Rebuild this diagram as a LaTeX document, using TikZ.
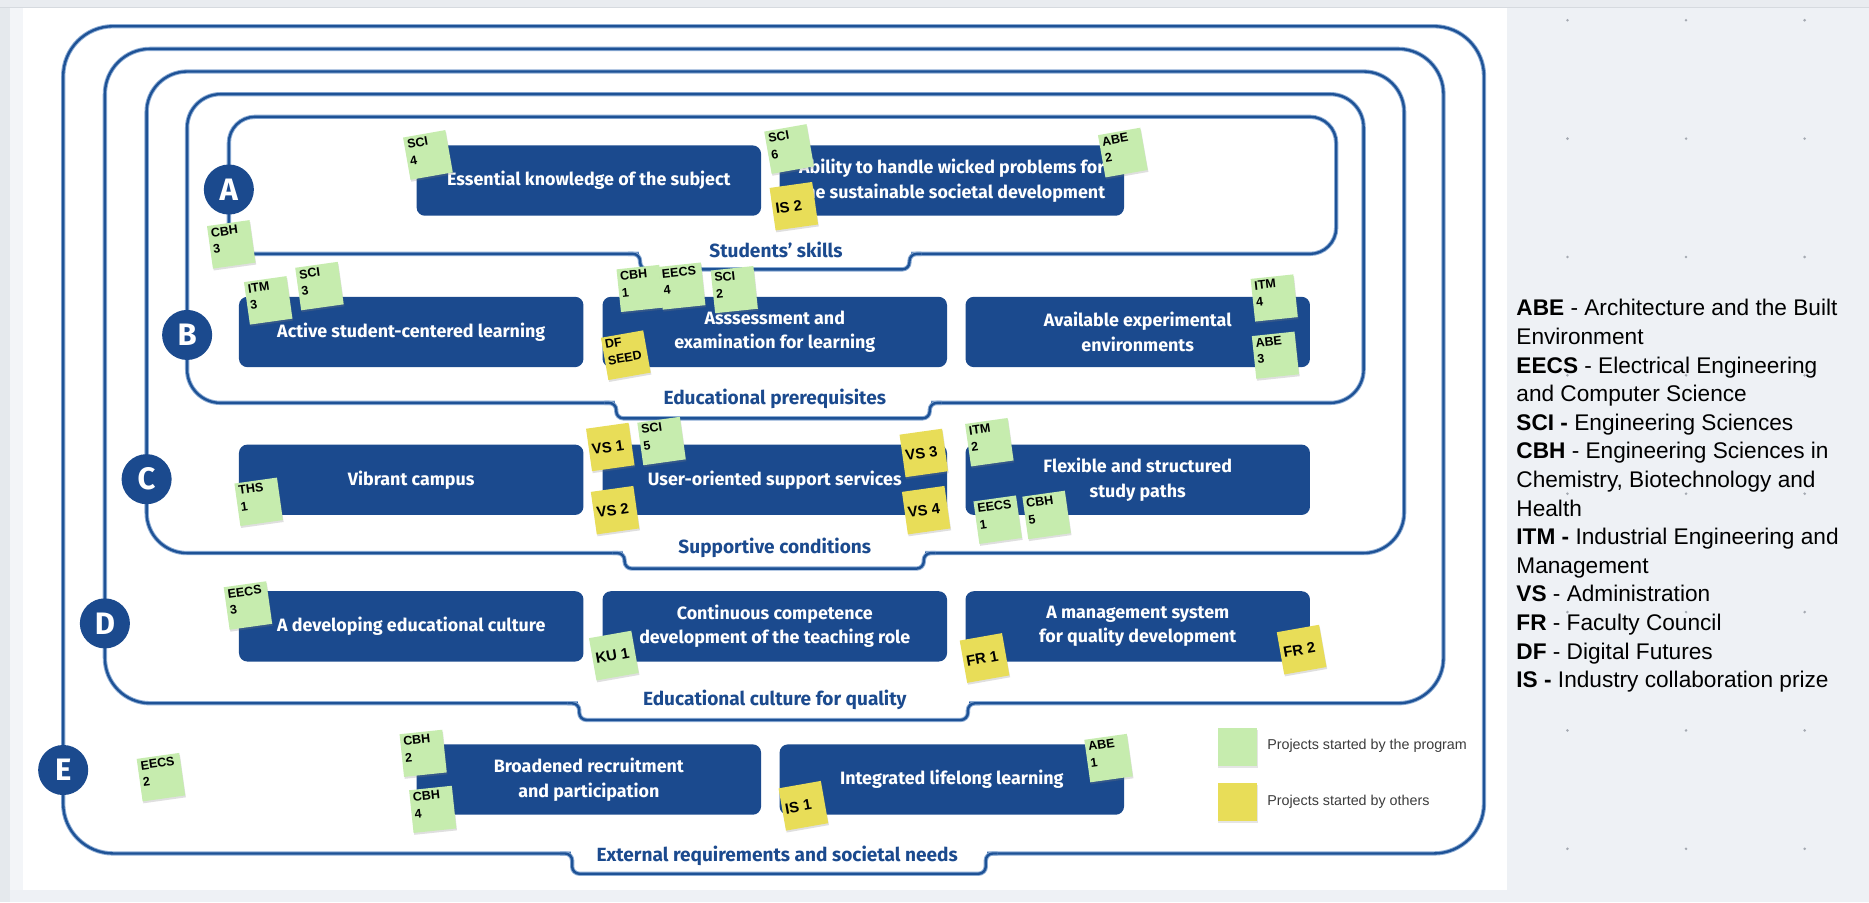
\documentclass[tikz,border=0pt]{standalone}
\usepackage{fontspec}
\setmainfont{Fira Sans}
\newfontfamily\arialf{Liberation Sans}
\usetikzlibrary{shadows}
\definecolor{kthblue}{RGB}{27,74,142}
\definecolor{frameblue}{RGB}{30,82,150}
\definecolor{framehalo}{RGB}{140,172,212}
\definecolor{stgreen}{RGB}{198,236,174}
\definecolor{styellow}{RGB}{232,221,88}
\definecolor{pagegrey}{RGB}{238,241,245}
\definecolor{topgrey}{RGB}{233,236,240}
\definecolor{linegrey}{RGB}{214,218,223}
\definecolor{leftgrey}{RGB}{229,233,237}
\definecolor{bandgrey}{RGB}{243,245,248}
\definecolor{dotgrey}{RGB}{165,170,178}
\definecolor{legtext}{RGB}{60,60,60}
\tikzset{
  frame/.style={draw=frameblue, line width=2pt, preaction={draw=framehalo, line width=3.6pt}},
  box/.style={fill=kthblue, rounded corners=7, text=white, align=center, inner sep=0pt,
    minimum width=289, minimum height=59, font=\bfseries\fontsize{15}{20.5}\selectfont},
  circ/.style={circle, fill=kthblue, text=white, inner sep=0pt, minimum size=42,
    font=\bfseries\fontsize{26}{26}\selectfont},
  flabel/.style={text=kthblue, inner sep=0pt, font=\bfseries\fontsize{16}{18}\selectfont},
  stick/.style={inner sep=2.5pt, minimum width=36, minimum height=36, font=\arialf\bfseries,
    drop shadow={opacity=0.25, shadow xshift=0.6pt, shadow yshift=-1.6pt}},
  legsq/.style={minimum width=33, minimum height=32, inner sep=0pt,
    drop shadow={opacity=0.2, shadow xshift=0.5pt, shadow yshift=-1.5pt}},
}
% L T R B r TL TR TB
\newcommand\tabframe[8]{%
  \draw[frame, rounded corners=#5] (#1,#2) rectangle (#3,#4);
  \fill[white] (#6-1,#4-3.5) rectangle (#7+1,#4+3.5);
  \draw[frame, rounded corners=6] (#6-10,#4) -- (#6,#4) -- (#6,#8) -- (#7,#8) -- (#7,#4) -- (#7+10,#4);
}
\newcommand\stktwo[2]{\parbox[c][31pt][t]{31pt}{\fontsize{10.5}{14}\selectfont #1\\#2}}
\newcommand\stkone[1]{\parbox[c][31pt][c]{31pt}{\fontsize{12.5}{13}\selectfont #1}}
\newcommand\stk[6]{\node[stick, fill=#4, rotate=#5] (#1) at (#2,#3) {#6};}
\begin{document}
\begin{tikzpicture}[x=1pt, y=-1pt]
\useasboundingbox (0,0) rectangle (1568,757);
% background
\fill[pagegrey] (0,0) rectangle (1568,757);
\fill[topgrey] (0,0) rectangle (1568,6.3);
\draw[linegrey, line width=0.8pt] (0,6.3) -- (1568,6.3);
\fill[leftgrey] (0,6.7) rectangle (8.4,757);
\fill[bandgrey] (8.4,7) rectangle (19,747);
\fill[white] (19,7) rectangle (1264,747);
\foreach \i in {0,1,2} \foreach \j in {0,...,7}
  \fill[dotgrey] (1315+99.5*\i, 17+99.3*\j) circle (1.2pt);
% frames
\tabframe{53}{22}{1245}{716}{42}{480}{827}{733}
\tabframe{88}{41}{1211}{590}{38}{486}{812}{604}
\tabframe{123}{60}{1178}{464}{34}{524}{775}{477}
\tabframe{157}{79}{1144}{338}{28}{517}{780}{351}
\tabframe{192}{98}{1121}{213}{22}{537}{763}{226}
% circles
\node[circ] (cA) at (192,159) {A};
\node[circ] (cB) at (157,281) {B};
\node[circ] (cC) at (123,402) {C};
\node[circ] (cD) at (88,523) {D};
\node[circ] (cE) at (53,646) {E};
% frame labels
\node[flabel] (lA) at (651,210) {Students’ skills};
\node[flabel] (lB) at (650,335) {Educational prerequisites};
\node[flabel] (lC) at (650,460) {Supportive conditions};
\node[flabel] (lD) at (650,587) {Educational culture for quality};
\node[flabel] (lE) at (652,718) {External requirements and societal needs};
% boxes
\node[box] (a1) at (494,151.5) {Essential knowledge of the subject};
\node[box] (a2) at (798.5,151.5) {Ability to handle wicked problems for\\the sustainable societal development};
\node[box] (b1) at (345,278.5) {Active student-centered learning};
\node[box] (b2) at (650,278.5) {Asssessment and\\examination for learning};
\node[box] (b3) at (954.5,278.5) {Available experimental\\environments};
\node[box] (c1) at (345,402.5) {Vibrant campus};
\node[box] (c2) at (650,402.5) {User-oriented support services};
\node[box] (c3) at (954.5,402.5) {Flexible and structured\\study paths};
\node[box] (d1) at (345,525.5) {A developing educational culture};
\node[box] (d2) at (650,525.5) {Continuous competence\\development of the teaching role};
\node[box] (d3) at (954.5,525.5) {A management system\\for quality development};
\node[box] (e1) at (494,654) {Broadened recruitment\\and participation};
\node[box] (e2) at (798.5,654) {Integrated lifelong learning};
% stickies
\stk{s1}{359}{130}{stgreen}{10}{\stktwo{SCI}{4}}
\stk{s2}{662}{125}{stgreen}{10}{\stktwo{SCI}{6}}
\stk{s3}{666}{173}{styellow}{8}{\stkone{IS 2}}
\stk{s4}{942}{128}{stgreen}{10}{\stktwo{ABE}{2}}
\stk{s5}{194}{205}{stgreen}{8}{\stktwo{CBH}{3}}
\stk{s6}{225}{252}{stgreen}{8}{\stktwo{ITM}{3}}
\stk{s7}{268}{240}{stgreen}{8}{\stktwo{SCI}{3}}
\stk{s8}{537}{242}{stgreen}{6}{\stktwo{CBH}{1}}
\stk{s9}{572}{240}{stgreen}{6}{\stktwo{EECS}{4}}
\stk{s10}{616}{243}{stgreen}{6}{\stktwo{SCI}{2}}
\stk{s11}{525}{298}{styellow}{10}{\stktwo{DF}{SEED}}
\stk{s12}{1069}{250}{stgreen}{6}{\stktwo{ITM}{4}}
\stk{s13}{1070}{298}{stgreen}{6}{\stktwo{ABE}{3}}
\stk{s14}{217}{421}{stgreen}{8}{\stktwo{THS}{1}}
\stk{s15}{512}{375}{styellow}{8}{\stkone{VS 1}}
\stk{s16}{555}{370}{stgreen}{8}{\stktwo{SCI}{5}}
\stk{s17}{516}{428}{styellow}{8}{\stkone{VS 2}}
\stk{s18}{775}{380}{styellow}{8}{\stkone{VS 3}}
\stk{s19}{777}{428}{styellow}{8}{\stkone{VS 4}}
\stk{s20}{830}{371}{stgreen}{8}{\stktwo{ITM}{2}}
\stk{s21}{837}{436}{stgreen}{8}{\stktwo{EECS}{1}}
\stk{s22}{878}{432}{stgreen}{8}{\stktwo{CBH}{5}}
\stk{s23}{208}{508}{stgreen}{8}{\stktwo{EECS}{3}}
\stk{s24}{515}{550}{stgreen}{10}{\stkone{KU 1}}
\stk{s25}{135}{652}{stgreen}{8}{\stktwo{EECS}{2}}
\stk{s26}{355}{632}{stgreen}{6}{\stktwo{CBH}{2}}
\stk{s27}{363}{679}{stgreen}{6}{\stktwo{CBH}{4}}
\stk{s28}{826}{552}{styellow}{10}{\stkone{FR 1}}
\stk{s29}{1092}{545}{styellow}{10}{\stkone{FR 2}}
\stk{s30}{930}{636}{stgreen}{8}{\stktwo{ABE}{1}}
\stk{s31}{674}{676}{styellow}{10}{\stkone{IS 1}}
% colour legend
\node[legsq, fill=stgreen] (lg) at (1038,627) {};
\node[anchor=west, inner sep=0pt, text=legtext, font=\arialf\fontsize{12}{12}\selectfont] (lgt) at (1063,626) {Projects started by the program};
\node[legsq, fill=styellow] (ly) at (1038,673) {};
\node[anchor=west, inner sep=0pt, text=legtext, font=\arialf\fontsize{12}{12}\selectfont] (lyt) at (1063,673) {Projects started by others};
% abbreviations
\node[anchor=north west, inner sep=0pt, align=left, font=\arialf\fontsize{19}{24}\selectfont] (abbr) at (1272,251)
{\textbf{ABE} - Architecture and the Built\\
Environment\\
\textbf{EECS} - Electrical Engineering\\
and Computer Science\\
\textbf{SCI -} Engineering Sciences\\
\textbf{CBH} - Engineering Sciences in\\
Chemistry, Biotechnology and\\
Health\\
\textbf{ITM -} Industrial Engineering and\\
Management\\
\textbf{VS} - Administration\\
\textbf{FR} - Faculty Council\\
\textbf{DF} - Digital Futures\\
\textbf{IS -} Industry collaboration prize};
\end{tikzpicture}
\end{document}
